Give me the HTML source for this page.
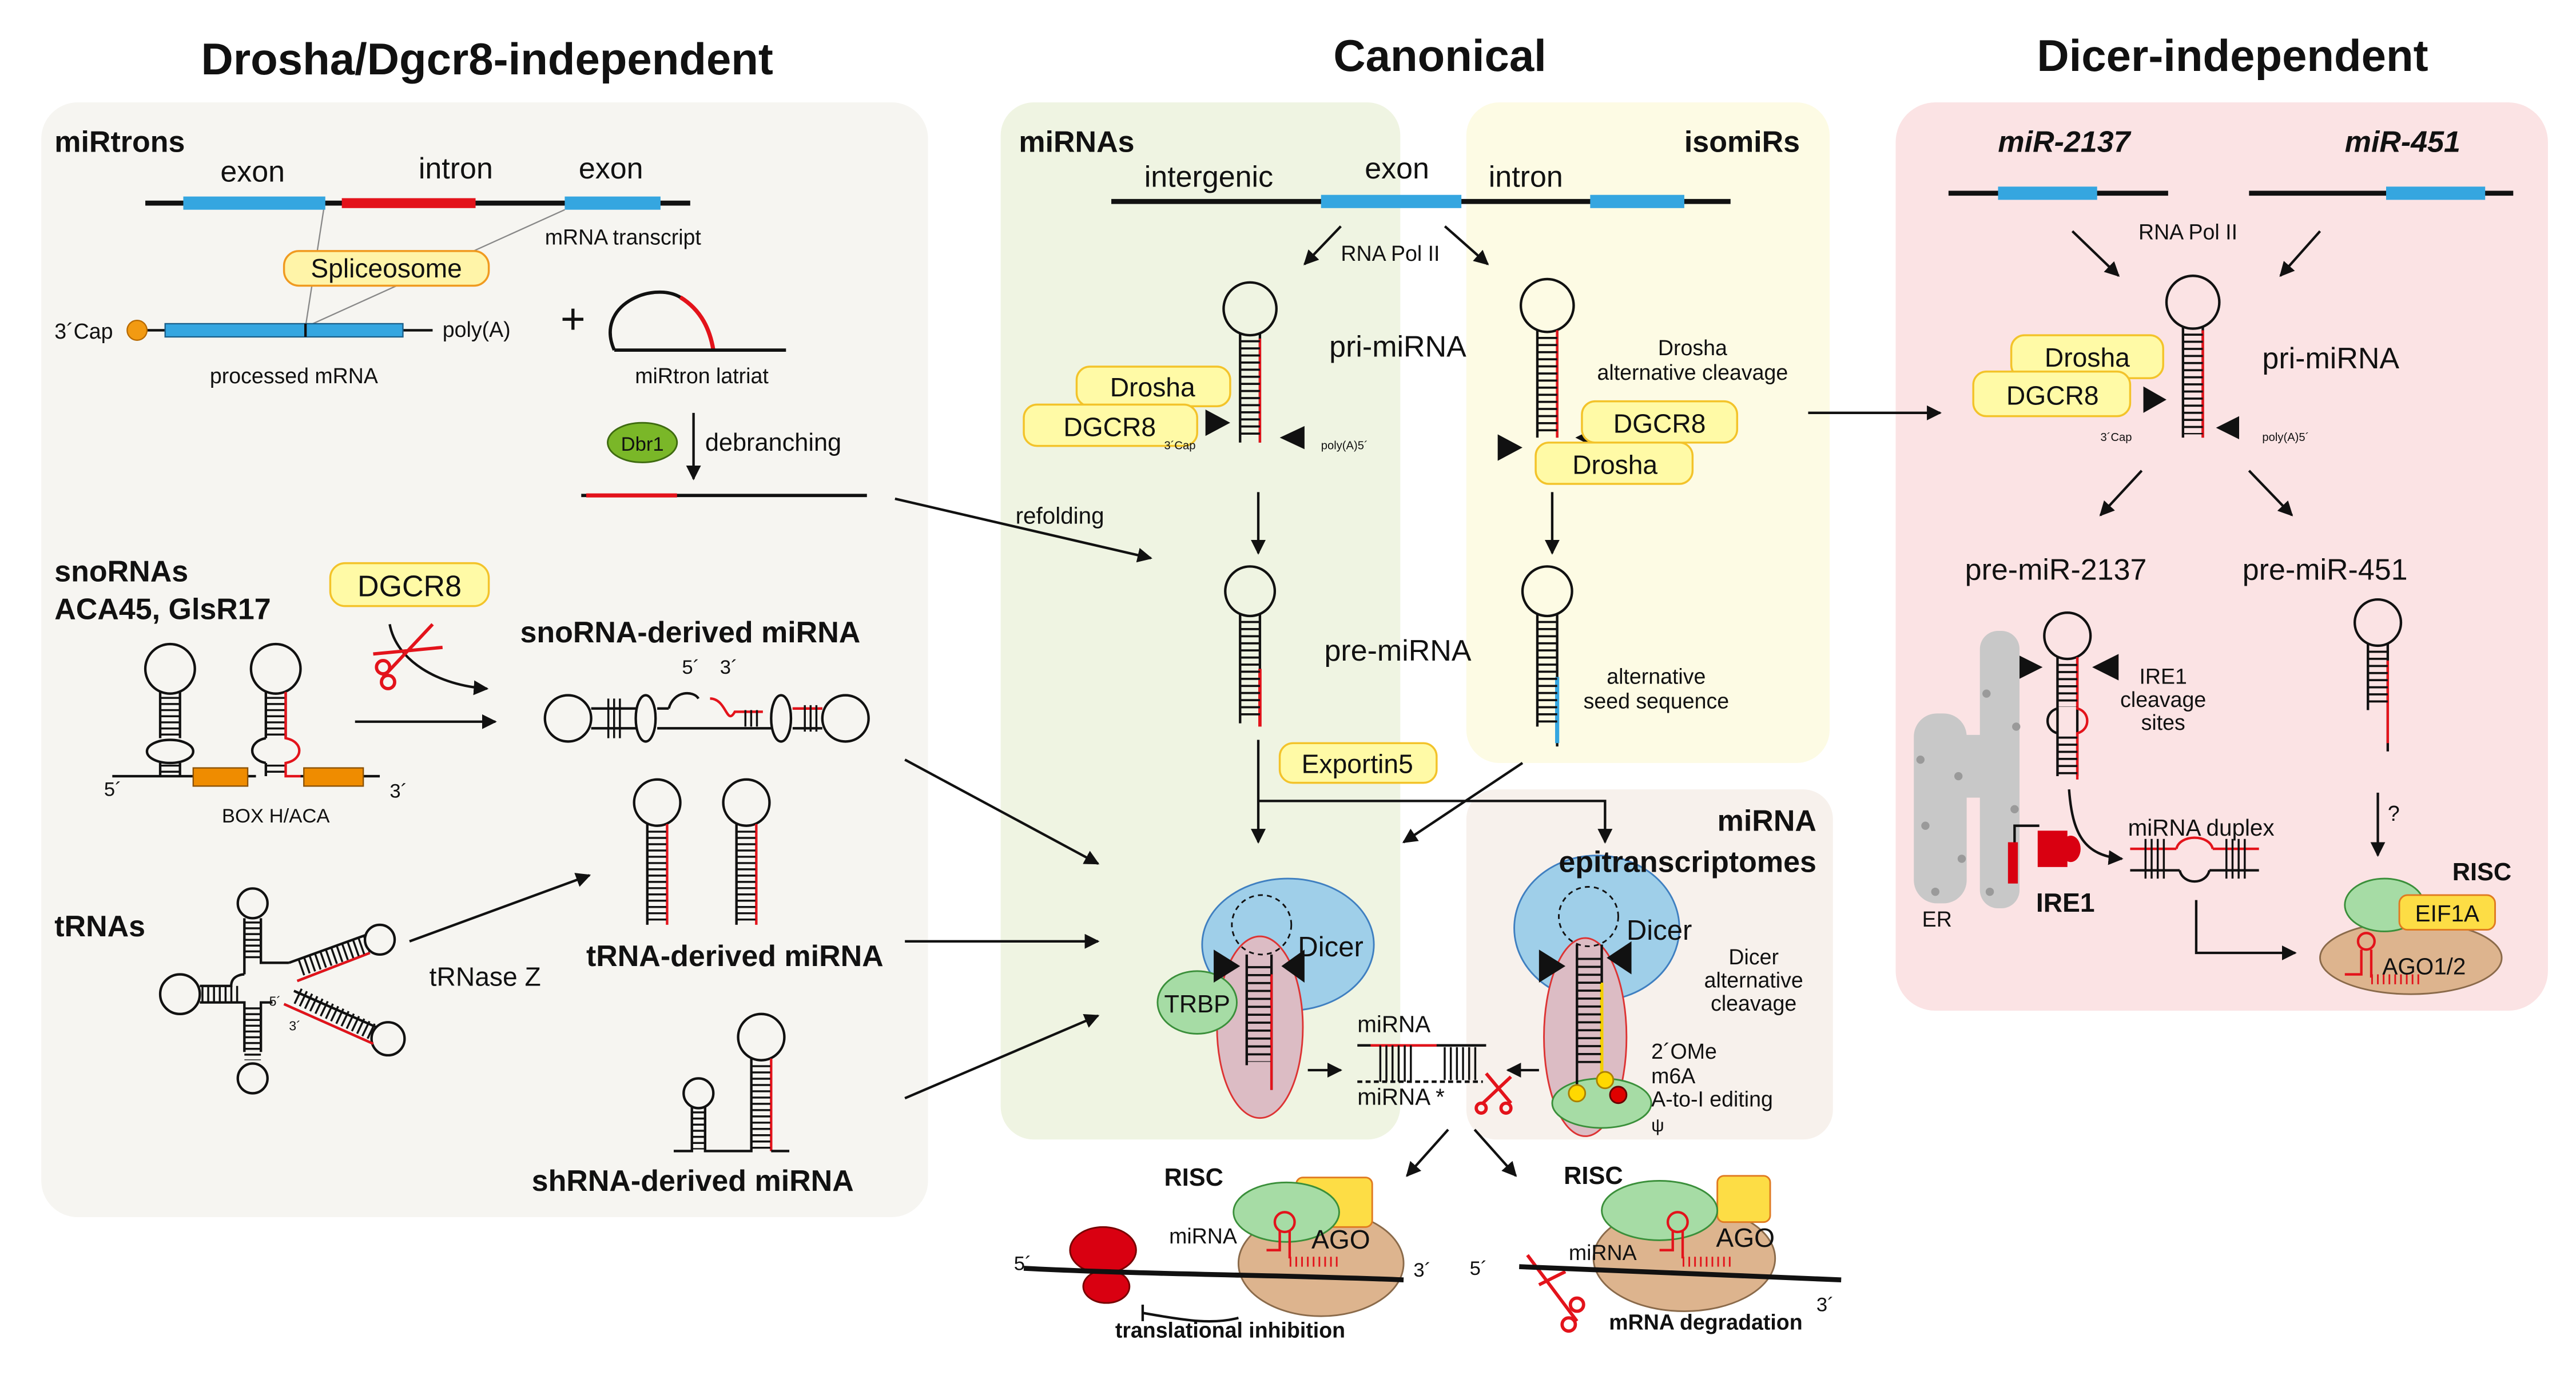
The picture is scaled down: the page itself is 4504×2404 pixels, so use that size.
<!DOCTYPE html>
<html><head><meta charset="utf-8"><style>
html,body{margin:0;padding:0;background:#fff;}
svg{display:block;}
text{font-family:"Liberation Sans",Arial,sans-serif;fill:#111;}
.b{font-weight:bold;}
</style></head><body>
<svg width="4504" height="2404" viewBox="0 0 1560 832.6" preserveAspectRatio="none" xmlns="http://www.w3.org/2000/svg">
<defs>
<marker id="ar" viewBox="0 0 10 10" refX="9" refY="5" markerWidth="9" markerHeight="9" markerUnits="userSpaceOnUse" orient="auto"><path d="M0 0L10 5L0 10z" fill="#111"/></marker>
</defs>
<rect width="1560" height="832.6" fill="#fff"/>
<!-- panels -->
<rect x="25" y="62" width="537" height="675" rx="22" fill="#f6f5f1"/>
<rect x="606" y="62" width="242" height="628" rx="20" fill="#eff4e2"/>
<rect x="888" y="62" width="220" height="400" rx="20" fill="#fdfbe4"/>
<rect x="888" y="478" width="222" height="212" rx="18" fill="#f7f1ec"/>
<rect x="1148" y="62" width="395" height="550" rx="24" fill="#fbe3e4"/>
<!-- titles -->
<text x="295" y="45" font-size="27" class="b" text-anchor="middle">Drosha/Dgcr8-independent</text>
<text x="872" y="43" font-size="27" class="b" text-anchor="middle">Canonical</text>
<text x="1352" y="43" font-size="27" class="b" text-anchor="middle">Dicer-independent</text>

<g stroke="#111" fill="none" stroke-width="1.5">
<!-- miRtrons -->
<line x1="88" y1="123" x2="418" y2="123" stroke-width="3"/>
<rect x="111" y="119" width="86" height="8" fill="#35a6e0" stroke="none"/>
<rect x="207" y="120" width="81" height="6" fill="#e3131b" stroke="none"/>
<rect x="342" y="119" width="58" height="8" fill="#35a6e0" stroke="none"/>
<line x1="196" y1="127" x2="185" y2="198" stroke="#888" stroke-width="0.8"/>
<line x1="342" y1="127" x2="185" y2="198" stroke="#888" stroke-width="0.8"/>
<line x1="89" y1="200" x2="262" y2="200"/>
<rect x="100" y="196" width="144" height="8" fill="#35a6e0" stroke="#1a5f8a" stroke-width="0.8"/>
<line x1="185" y1="196" x2="185" y2="204"/>
<circle cx="83" cy="200" r="6" fill="#f29a12" stroke="#b86a00" stroke-width="0.8"/>
<path d="M372 212 C360 185,395 170,412 180" stroke-width="2"/>
<path d="M412 180 C425 188,430 200,432 212" stroke="#e3131b" stroke-width="2.5"/>
<line x1="372" y1="212" x2="476" y2="212" stroke-width="2"/>
<line x1="420" y1="250" x2="420" y2="290" marker-end="url(#ar)"/>
<line x1="352" y1="300" x2="525" y2="300" stroke-width="2"/>
<line x1="355" y1="300" x2="410" y2="300" stroke="#e3131b" stroke-width="2.5"/>
<line x1="542" y1="302" x2="697" y2="338" marker-end="url(#ar)"/>
<!-- snoRNAs -->
<path d="M236 378 C240 400,265 415,295 417" marker-end="url(#ar)"/>
<line x1="215" y1="437" x2="300" y2="437" marker-end="url(#ar)"/>
<g stroke="#111">
<path d="M68 470H120 M150 470H155 M182 470H230"/>
<circle cx="103" cy="405" r="15"/><circle cx="167" cy="405" r="15"/>
<path d="M97 419V447 M109 419V447 M97 462V470 M109 462V470"/>
<path d="M161 419V447 M173 419V447 M161 462V470"/>
<ellipse cx="103" cy="455" rx="14" ry="7"/>
<path d="M161 447 C150 449,150 460,161 462"/>
<line x1="103" y1="422" x2="103" y2="446" stroke-width="11" stroke-dasharray="1.2 2.5"/>
<line x1="103" y1="463" x2="103" y2="470" stroke-width="11" stroke-dasharray="1.2 2.5"/>
<line x1="167" y1="422" x2="167" y2="446" stroke-width="11" stroke-dasharray="1.2 2.5"/>
<line x1="167" y1="463" x2="167" y2="470" stroke-width="11" stroke-dasharray="1.2 2.5"/>
<path d="M173 419V447 C184 449,184 460,173 462V470H182" stroke="#e3131b"/>
</g>
<rect x="117" y="465" width="33" height="11" fill="#ef8c00" stroke="#8a5000" stroke-width="0.8"/>
<rect x="184" y="465" width="36" height="11" fill="#ef8c00" stroke="#8a5000" stroke-width="0.8"/>
<!-- sno derived -->
<circle cx="344" cy="435" r="14"/><circle cx="512" cy="435" r="14"/>
<path d="M358 429H385 M358 441H385 M398 429H405 M398 441H467 M480 429H498 M480 441H498"/>
<ellipse cx="391" cy="435" rx="6" ry="14"/><ellipse cx="473" cy="435" rx="6" ry="14"/>
<path d="M405 429 C408 418,420 418,423 423" />
<path d="M430 423 C440 423,440 440,445 431H462" stroke="#e3131b"/>
<line x1="480" y1="429" x2="498" y2="429" stroke="#e3131b"/>
<line x1="371" y1="430" x2="371" y2="440" stroke-width="24" stroke-dasharray="1.2 2.3" transform="rotate(90 371 435)"/>
<line x1="490" y1="430" x2="490" y2="440" stroke-width="16" stroke-dasharray="1.2 2.3" transform="rotate(90 490 435)"/>
<line x1="454" y1="430" x2="454" y2="440" stroke-width="10" stroke-dasharray="1.2 2.3" transform="rotate(90 454 435)"/>
<!-- tRNA clover -->
<circle cx="153" cy="547" r="9"/><circle cx="109" cy="602" r="12"/><circle cx="153" cy="653" r="9"/>
<circle cx="230" cy="569" r="9"/><circle cx="235" cy="629" r="10"/>
<path d="M148 556V590 M158 556V583 H175 M121 597H140 C140 590,148 590,148 590 M121 607H148V637 M158 637V607H165"/>
<line x1="153" y1="558" x2="153" y2="582" stroke-width="10" stroke-dasharray="1.2 2.3"/>
<line x1="153" y1="610" x2="153" y2="642" stroke-width="10" stroke-dasharray="1.2 2.3"/>
<line x1="122" y1="602" x2="146" y2="602" stroke-width="10" stroke-dasharray="1.2 2.3"/>
<path d="M175 583L222 566 M180 594L224 577" />
<path d="M180 594L224 577" stroke="#e3131b"/>
<path d="M178 600L228 622 M172 608L226 632" stroke="#111"/>
<path d="M172 608L226 632" stroke="#e3131b"/>
<line x1="180" y1="582" x2="220" y2="568" stroke-width="10" stroke-dasharray="1.2 2.3" transform="translate(2 4)"/>
<line x1="180" y1="604" x2="226" y2="626" stroke-width="10" stroke-dasharray="1.2 2.3" transform="translate(0 -1)"/>
<line x1="248" y1="570" x2="357" y2="530" marker-end="url(#ar)"/>
<!-- tRNA derived -->
<circle cx="398" cy="486" r="14"/><circle cx="452" cy="486" r="14"/>
<path d="M392 499V560 M446 499V560"/>
<path d="M404 499V560 M458 499V560" stroke="#e3131b"/>
<line x1="398" y1="503" x2="398" y2="558" stroke-width="11" stroke-dasharray="1.2 2.6"/>
<line x1="452" y1="503" x2="452" y2="558" stroke-width="11" stroke-dasharray="1.2 2.6"/>
<!-- shRNA -->
<circle cx="423" cy="662" r="9"/><circle cx="461" cy="628" r="14"/>
<path d="M408 697H419V670 M427 670V697H455V641"/>
<path d="M467 641V697" stroke="#e3131b"/><path d="M467 697H478"/>
<line x1="423" y1="673" x2="423" y2="696" stroke-width="8" stroke-dasharray="1.2 2.5"/>
<line x1="461" y1="645" x2="461" y2="696" stroke-width="11" stroke-dasharray="1.2 2.6"/>
<line x1="548" y1="460" x2="665" y2="523" marker-end="url(#ar)"/>
<line x1="548" y1="570" x2="665" y2="570" marker-end="url(#ar)"/>
<line x1="548" y1="665" x2="665" y2="615" marker-end="url(#ar)"/>

<!-- canonical top -->
<line x1="673" y1="122" x2="1048" y2="122" stroke-width="3"/>
<rect x="800" y="118" width="85" height="8" fill="#35a6e0" stroke="none"/>
<rect x="963" y="118" width="57" height="8" fill="#35a6e0" stroke="none"/>
<line x1="812" y1="137" x2="790" y2="160" marker-end="url(#ar)"/>
<line x1="875" y1="137" x2="901" y2="160" marker-end="url(#ar)"/>
<!-- pri-miRNA canonical -->
<circle cx="757" cy="187" r="16"/>
<path d="M751 202V268 M763 202V268" />
<path d="M763 205V268" stroke="#e3131b"/>
<line x1="757" y1="206" x2="757" y2="266" stroke-width="12" stroke-dasharray="1.3 3"/>
<line x1="762" y1="298" x2="762" y2="335" marker-end="url(#ar)"/>
<circle cx="757" cy="358" r="15"/>
<path d="M751 372V438 M763 372V438"/>
<path d="M763 405V440" stroke="#e3131b" stroke-width="2"/>
<line x1="757" y1="376" x2="757" y2="436" stroke-width="12" stroke-dasharray="1.3 3"/>
<!-- isomiR -->
<circle cx="937" cy="185" r="16"/>
<path d="M931 200V265 M943 200V265"/>
<path d="M943 200V265" stroke="#e3131b"/>
<line x1="937" y1="204" x2="937" y2="263" stroke-width="12" stroke-dasharray="1.3 3"/>
<line x1="940" y1="298" x2="940" y2="335" marker-end="url(#ar)"/>
<circle cx="937" cy="358" r="15"/>
<path d="M931 372V440 M943 372V452"/>
<path d="M943 410V450" stroke="#35a6e0" stroke-width="2.5"/>
<line x1="937" y1="376" x2="937" y2="438" stroke-width="12" stroke-dasharray="1.3 3"/>
<!-- Exportin routes -->
<line x1="762" y1="448" x2="762" y2="510" marker-end="url(#ar)"/>
<path d="M762 485H972V510" marker-end="url(#ar)"/>
<line x1="922" y1="462" x2="850" y2="510" marker-end="url(#ar)"/>
<line x1="1095" y1="250" x2="1175" y2="250" marker-end="url(#ar)"/>
</g>

<!-- triangles -->
<g fill="#111">
<path d="M730 248L745 256L730 264z"/><path d="M790 258L775 265L790 272z"/>
<path d="M907 263L922 271L907 279z"/><path d="M968 258L954 265L968 272z"/>
<path d="M1298 234L1312 242L1298 250z"/><path d="M1356 252L1342 259L1356 266z"/>
<path d="M1221 396L1237 404L1221 412z"/><path d="M1283 396L1267 404L1283 412z"/>
</g>

<!-- boxes -->
<g stroke="#f3c32a" stroke-width="1.2" fill="#fffaa6">
<rect x="172" y="152" width="124" height="21" rx="9" stroke="#f09a20" fill="#fff4a8"/>
<rect x="200" y="341" width="96" height="26" rx="9"/>
<rect x="652" y="222" width="93" height="24" rx="8"/>
<rect x="620" y="245" width="105" height="25" rx="8"/>
<rect x="958" y="243" width="94" height="25" rx="8"/>
<rect x="930" y="268" width="95" height="25" rx="8"/>
<rect x="775" y="450" width="95" height="24" rx="8"/>
<rect x="1218" y="203" width="92" height="26" rx="8"/>
<rect x="1195" y="225" width="95" height="27" rx="8"/>
</g>
<ellipse cx="389" cy="268" rx="21" ry="12" fill="#7ab728" stroke="#3e6a10"/>

<!-- Dicer canonical -->
<ellipse cx="780" cy="572" rx="52" ry="40" fill="#9fcfe9" stroke="#3f7fc0"/>
<ellipse cx="763" cy="622" rx="26" ry="55" fill="#dcbcc4" stroke="#d33"/>
<ellipse cx="725" cy="607" rx="24" ry="19" fill="#a6dca5" stroke="#3a8f3a"/>
<circle cx="764" cy="560" r="18" fill="none" stroke="#111" stroke-dasharray="3 2.5"/>
<g stroke="#111" fill="none" stroke-width="1.5">
<path d="M755 578V645 M770 578V660"/><path d="M770 590V660" stroke="#e3131b"/>
<line x1="762" y1="585" x2="762" y2="643" stroke-width="15" stroke-dasharray="1.3 3.5"/>
<line x1="792" y1="648" x2="812" y2="648" marker-end="url(#ar)"/>
<line x1="932" y1="648" x2="913" y2="648" marker-end="url(#ar)"/>
<path d="M822 633H900" /><path d="M830 633H870" stroke="#e3131b"/>
<path d="M822 655H898" stroke-dasharray="3 2"/>
<line x1="845" y1="634" x2="845" y2="654" stroke-width="22" stroke-dasharray="1.2 2.5" transform="rotate(90 845 644)"/>
<line x1="884" y1="634" x2="884" y2="654" stroke-width="20" stroke-dasharray="1.2 2.5" transform="rotate(90 884 644)"/>
</g>
<path d="M735 575L751 585L735 595z M790 575L776 585L790 595z" fill="#111"/>
<!-- epi Dicer -->
<ellipse cx="967" cy="562" rx="50" ry="44" fill="#9fcfe9" stroke="#3f7fc0"/>
<ellipse cx="960" cy="628" rx="25" ry="60" fill="#dcbcc4" stroke="#d33"/>
<ellipse cx="970" cy="668" rx="30" ry="15" fill="#a6dca5" stroke="#3a8f3a"/>
<circle cx="962" cy="555" r="18" fill="none" stroke="#111" stroke-dasharray="3 2.5"/>
<g stroke="#111" fill="none" stroke-width="1.5">
<path d="M955 572V660 M970 572V655"/><path d="M970 595V650" stroke="#f3d000" stroke-width="2"/>
<line x1="962" y1="580" x2="962" y2="645" stroke-width="15" stroke-dasharray="1.3 3.5"/>
</g>
<path d="M932 575L948 585L932 595z M988 570L973 580L988 590z" fill="#111"/>
<circle cx="955" cy="662" r="5" fill="#ffd800" stroke="#aa8000"/>
<circle cx="972" cy="654" r="5" fill="#ffd800" stroke="#aa8000"/>
<circle cx="980" cy="663" r="5" fill="#e00000" stroke="#600"/>
<!-- scissors -->
<g stroke="#e3131b" fill="none" stroke-width="2">
<path d="M900 650L915 668 M915 652L898 668"/><circle cx="897" cy="671" r="3"/><circle cx="912" cy="671" r="3"/>
<path d="M232 410L262 378 M226 396L268 392"/><circle cx="232" cy="404" r="4"/><circle cx="235" cy="413" r="4"/>
<path d="M925 760L955 800 M932 778L948 770"/><circle cx="955" cy="790" r="4"/><circle cx="950" cy="802" r="4"/>
</g>
<!-- RISC lower -->
<g stroke="#111" fill="none" stroke-width="1.5">
<line x1="877" y1="684" x2="852" y2="712" marker-end="url(#ar)"/>
<line x1="893" y1="684" x2="918" y2="712" marker-end="url(#ar)"/>
</g>
<ellipse cx="800" cy="765" rx="50" ry="32" fill="#ddb48e" stroke="#8a6a4a"/>
<rect x="785" y="713" width="46" height="30" rx="4" fill="#fddd45" stroke="#e07a20"/>
<ellipse cx="779" cy="734" rx="32" ry="18" fill="#a6dca5" stroke="#3a8f3a"/>
<ellipse cx="668" cy="757" rx="20" ry="14" fill="#d90011" stroke="#700"/>
<ellipse cx="670" cy="779" rx="14" ry="10" fill="#d90011" stroke="#700"/>
<path d="M620 768 C700 772,780 772,850 775" stroke="#111" stroke-width="3" fill="none"/>
<path d="M692 790V800 M692 795 C720 800,735 802,750 798" stroke="#111" stroke-width="1.5" fill="none"/>
<path d="M767 757H775V745 M781 745V762" stroke="#e3131b" fill="none" stroke-width="1.5"/>
<circle cx="778" cy="740" r="6" stroke="#e3131b" fill="none" stroke-width="1.5"/>
<line x1="781" y1="764" x2="812" y2="764" stroke="#e3131b" stroke-width="6" stroke-dasharray="1 2.5"/>
<ellipse cx="1020" cy="762" rx="55" ry="32" fill="#ddb48e" stroke="#8a6a4a"/>
<rect x="1040" y="712" width="32" height="28" rx="4" fill="#fddd45" stroke="#e07a20"/>
<ellipse cx="1005" cy="733" rx="35" ry="18" fill="#a6dca5" stroke="#3a8f3a"/>
<path d="M920 767 C980 770,1050 772,1115 775" stroke="#111" stroke-width="3" fill="none"/>
<path d="M1005 757H1013V745 M1019 745V762" stroke="#e3131b" fill="none" stroke-width="1.5"/>
<circle cx="1016" cy="740" r="6" stroke="#e3131b" fill="none" stroke-width="1.5"/>
<line x1="1019" y1="764" x2="1050" y2="764" stroke="#e3131b" stroke-width="6" stroke-dasharray="1 2.5"/>

<!-- Dicer-independent -->
<g stroke="#111" fill="none" stroke-width="1.5">
<line x1="1180" y1="117" x2="1313" y2="117" stroke-width="3"/>
<line x1="1362" y1="117" x2="1522" y2="117" stroke-width="3"/>
<line x1="1255" y1="140" x2="1283" y2="167" marker-end="url(#ar)"/>
<line x1="1405" y1="140" x2="1381" y2="167" marker-end="url(#ar)"/>
<circle cx="1328" cy="183" r="16"/>
<path d="M1322 198V265 M1334 198V265"/><path d="M1334 200V265" stroke="#e3131b"/>
<line x1="1328" y1="202" x2="1328" y2="263" stroke-width="12" stroke-dasharray="1.3 3"/>
<line x1="1297" y1="285" x2="1272" y2="312" marker-end="url(#ar)"/>
<line x1="1362" y1="285" x2="1388" y2="312" marker-end="url(#ar)"/>
</g>
<rect x="1210" y="113" width="60" height="8" fill="#35a6e0"/>
<rect x="1445" y="113" width="60" height="8" fill="#35a6e0"/>
<!-- ER -->
<g fill="#c8c8c8">
<rect x="1159" y="432" width="32" height="115" rx="14"/>
<rect x="1199" y="382" width="24" height="168" rx="11"/>
<rect x="1185" y="445" width="20" height="38"/>
</g>
<g fill="#9a9a9a">
<circle cx="1163" cy="460" r="2.5"/><circle cx="1166" cy="500" r="2.5"/><circle cx="1186" cy="470" r="2.5"/><circle cx="1188" cy="520" r="2.5"/><circle cx="1203" cy="420" r="2.5"/><circle cx="1221" cy="440" r="2.5"/><circle cx="1220" cy="490" r="2.5"/><circle cx="1205" cy="540" r="2.5"/><circle cx="1172" cy="540" r="2.5"/>
</g>
<g stroke="#111" fill="none" stroke-width="1.5">
<circle cx="1252" cy="385" r="14"/>
<path d="M1246 398V470 M1258 398V470"/>
<path d="M1258 398V429 C1266 431,1266 442,1258 444V472" stroke="#e3131b"/>
<path d="M1246 429 C1238 431,1238 442,1246 444"/>
<line x1="1252" y1="402" x2="1252" y2="428" stroke-width="12" stroke-dasharray="1.3 3"/>
<line x1="1252" y1="446" x2="1252" y2="469" stroke-width="12" stroke-dasharray="1.3 3"/>
<path d="M1253 478 C1255 505,1262 518,1285 520" marker-end="url(#ar)"/>
<path d="M1290 514H1318 M1340 514H1368" stroke="#e3131b"/>
<path d="M1290 527H1320 M1338 527H1368"/>
<path d="M1318 514 C1320 505,1338 505,1340 514" stroke="#e3131b"/>
<path d="M1320 527 C1322 536,1336 536,1338 527"/>
<line x1="1305" y1="514" x2="1305" y2="527" stroke-width="24" stroke-dasharray="1.2 2.5" transform="rotate(90 1305 520)"/>
<line x1="1354" y1="514" x2="1354" y2="527" stroke-width="24" stroke-dasharray="1.2 2.5" transform="rotate(90 1354 520)"/>
<circle cx="1440" cy="377" r="14"/>
<path d="M1434 390V430 M1446 390V455"/><path d="M1446 400V450" stroke="#e3131b"/>
<line x1="1440" y1="394" x2="1440" y2="428" stroke-width="12" stroke-dasharray="1.3 3"/>
<line x1="1440" y1="480" x2="1440" y2="518" marker-end="url(#ar)"/>
<path d="M1330 545V577H1390" marker-end="url(#ar)"/>
<path d="M1220 512V500H1235"/>
</g>
<rect x="1216" y="510" width="6" height="25" fill="#d90011"/>
<rect x="1234" y="503" width="18" height="22" fill="#d90011"/>
<ellipse cx="1254" cy="514" rx="6" ry="8" fill="#d90011"/>
<ellipse cx="1460" cy="580" rx="55" ry="22" fill="#ddb48e" stroke="#8a6a4a"/>
<ellipse cx="1444" cy="548" rx="24" ry="16" fill="#a6dca5" stroke="#3a8f3a"/>
<rect x="1453" y="542" width="58" height="21" rx="5" fill="#fddd45" stroke="#e07a20"/>
<path d="M1420 590H1430V575 M1436 575V592" stroke="#e3131b" fill="none" stroke-width="1.5"/>
<circle cx="1433" cy="570" r="5" stroke="#e3131b" fill="none" stroke-width="1.5"/>
<line x1="1436" y1="593" x2="1466" y2="593" stroke="#e3131b" stroke-width="6" stroke-dasharray="1 2.5"/>

<!-- TEXT -->
<text x="33" y="92" font-size="18" class="b">miRtrons</text>
<text x="153" y="110" font-size="18" text-anchor="middle">exon</text>
<text x="276" y="108" font-size="18" text-anchor="middle">intron</text>
<text x="370" y="108" font-size="18" text-anchor="middle">exon</text>
<text x="330" y="148" font-size="13">mRNA transcript</text>
<text x="234" y="168" font-size="16" text-anchor="middle">Spliceosome</text>
<text x="33" y="205" font-size="13">3´Cap</text>
<text x="268" y="204" font-size="13">poly(A)</text>
<text x="178" y="232" font-size="13" text-anchor="middle">processed mRNA</text>
<text x="347" y="202" font-size="26" text-anchor="middle">+</text>
<text x="425" y="232" font-size="13" text-anchor="middle">miRtron latriat</text>
<text x="389" y="273" font-size="12" text-anchor="middle">Dbr1</text>
<text x="427" y="273" font-size="15">debranching</text>
<text x="615" y="317" font-size="14">refolding</text>
<text x="33" y="352" font-size="18" class="b">snoRNAs</text>
<text x="33" y="375" font-size="18" class="b">ACA45, GlsR17</text>
<text x="248" y="361" font-size="18" text-anchor="middle">DGCR8</text>
<text x="315" y="389" font-size="18" class="b">snoRNA-derived miRNA</text>
<text x="413" y="408" font-size="12">5´</text><text x="436" y="408" font-size="12">3´</text>
<text x="63" y="482" font-size="12">5´</text><text x="236" y="483" font-size="12">3´</text>
<text x="167" y="498" font-size="12" text-anchor="middle">BOX H/ACA</text>
<text x="33" y="567" font-size="18" class="b">tRNAs</text>
<text x="163" y="609" font-size="8">5´</text><text x="175" y="624" font-size="8">3´</text>
<text x="260" y="597" font-size="16">tRNase Z</text>
<text x="355" y="585" font-size="18" class="b">tRNA-derived miRNA</text>
<text x="322" y="721" font-size="18" class="b">shRNA-derived miRNA</text>

<text x="617" y="92" font-size="18" class="b">miRNAs</text>
<text x="1090" y="92" font-size="18" class="b" text-anchor="end">isomiRs</text>
<text x="732" y="113" font-size="18" text-anchor="middle">intergenic</text>
<text x="846" y="108" font-size="18" text-anchor="middle">exon</text>
<text x="924" y="113" font-size="18" text-anchor="middle">intron</text>
<text x="812" y="158" font-size="13">RNA Pol II</text>
<text x="805" y="216" font-size="18">pri-miRNA</text>
<text x="698" y="240" font-size="16" text-anchor="middle">Drosha</text>
<text x="672" y="264" font-size="16" text-anchor="middle">DGCR8</text>
<text x="705" y="272" font-size="7">3´Cap</text>
<text x="800" y="272" font-size="7">poly(A)5´</text>
<text x="802" y="400" font-size="18">pre-miRNA</text>
<text x="822" y="468" font-size="16" text-anchor="middle">Exportin5</text>
<text x="1025" y="215" font-size="13" text-anchor="middle">Drosha</text>
<text x="1025" y="230" font-size="13" text-anchor="middle">alternative cleavage</text>
<text x="1005" y="262" font-size="16" text-anchor="middle">DGCR8</text>
<text x="978" y="287" font-size="16" text-anchor="middle">Drosha</text>
<text x="1003" y="414" font-size="13" text-anchor="middle">alternative</text>
<text x="1003" y="429" font-size="13" text-anchor="middle">seed sequence</text>
<text x="1100" y="503" font-size="18" class="b" text-anchor="end">miRNA</text>
<text x="1100" y="528" font-size="18" class="b" text-anchor="end">epitranscriptomes</text>
<text x="786" y="579" font-size="17">Dicer</text>
<text x="725" y="613" font-size="15" text-anchor="middle">TRBP</text>
<text x="822" y="625" font-size="14">miRNA</text>
<text x="822" y="669" font-size="14">miRNA *</text>
<text x="985" y="569" font-size="17">Dicer</text>
<text x="1062" y="584" font-size="13" text-anchor="middle">Dicer</text>
<text x="1062" y="598" font-size="13" text-anchor="middle">alternative</text>
<text x="1062" y="612" font-size="13" text-anchor="middle">cleavage</text>
<text x="1000" y="641" font-size="13">2´OMe</text>
<text x="1000" y="656" font-size="13">m6A</text>
<text x="1000" y="670" font-size="13">A-to-I editing</text>
<text x="1000" y="685" font-size="11" fill="#555">ψ</text>
<text x="705" y="718" font-size="15" class="b">RISC</text>
<text x="708" y="753" font-size="13">miRNA</text>
<text x="812" y="756" font-size="16" text-anchor="middle">AGO</text>
<text x="614" y="769" font-size="12">5´</text><text x="856" y="773" font-size="12">3´</text>
<text x="745" y="810" font-size="13" class="b" text-anchor="middle">translational inhibition</text>
<text x="947" y="717" font-size="15" class="b">RISC</text>
<text x="950" y="763" font-size="13">miRNA</text>
<text x="1057" y="755" font-size="16" text-anchor="middle">AGO</text>
<text x="890" y="772" font-size="12">5´</text><text x="1100" y="794" font-size="12">3´</text>
<text x="1033" y="805" font-size="13" class="b" text-anchor="middle">mRNA degradation</text>

<text x="1250" y="92" font-size="18" class="b" font-style="italic" text-anchor="middle">miR-2137</text>
<text x="1455" y="92" font-size="18" class="b" font-style="italic" text-anchor="middle">miR-451</text>
<text x="1325" y="145" font-size="13" text-anchor="middle">RNA Pol II</text>
<text x="1264" y="222" font-size="16" text-anchor="middle">Drosha</text>
<text x="1243" y="245" font-size="16" text-anchor="middle">DGCR8</text>
<text x="1370" y="223" font-size="18">pri-miRNA</text>
<text x="1272" y="267" font-size="7">3´Cap</text>
<text x="1370" y="267" font-size="7">poly(A)5´</text>
<text x="1245" y="351" font-size="18" text-anchor="middle">pre-miR-2137</text>
<text x="1408" y="351" font-size="18" text-anchor="middle">pre-miR-451</text>
<text x="1310" y="414" font-size="13" text-anchor="middle">IRE1</text>
<text x="1310" y="428" font-size="13" text-anchor="middle">cleavage</text>
<text x="1310" y="442" font-size="13" text-anchor="middle">sites</text>
<text x="1333" y="506" font-size="14" text-anchor="middle">miRNA duplex</text>
<text x="1233" y="552" font-size="16" class="b">IRE1</text>
<text x="1164" y="561" font-size="13">ER</text>
<text x="1446" y="497" font-size="13">?</text>
<text x="1503" y="533" font-size="15" class="b" text-anchor="middle">RISC</text>
<text x="1482" y="558" font-size="14" text-anchor="middle">EIF1A</text>
<text x="1468" y="590" font-size="14" text-anchor="middle">AGO1/2</text>
</svg>
</body></html>
